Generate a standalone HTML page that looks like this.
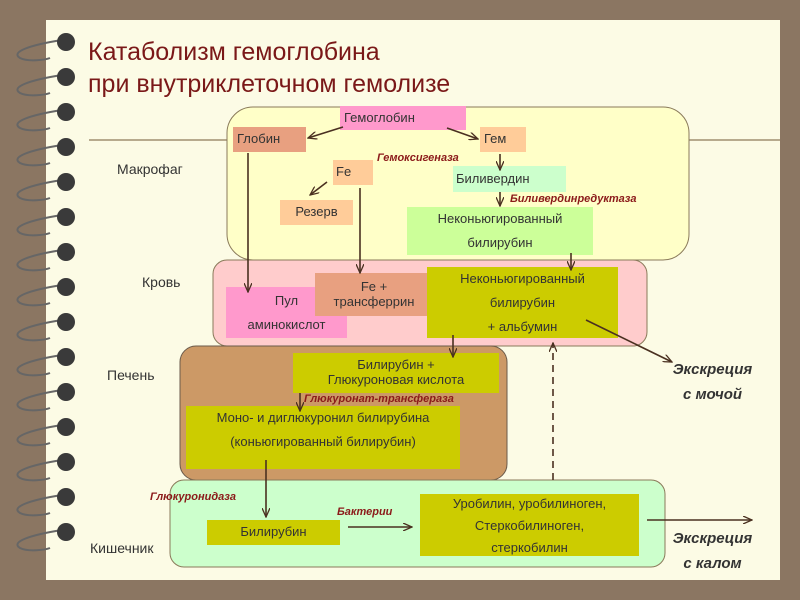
<!DOCTYPE html>
<html><head><meta charset="utf-8"><style>
body{margin:0;width:800px;height:600px;overflow:hidden;background:#8b7662;font-family:"Liberation Sans",sans-serif}
.b{position:absolute;font-size:13px;color:#333;text-align:center;line-height:1.15;display:flex;flex-direction:column;justify-content:center}
.l{position:absolute;font-size:14px;color:#333}
.e{position:absolute;font-size:11px;font-weight:bold;font-style:italic;color:#8b1a1a}
.x{position:absolute;font-size:15px;font-weight:bold;font-style:italic;color:#333;text-align:center;line-height:25px}
</style></head><body>
<div style="position:absolute;left:46px;top:20px;width:734px;height:560px;background:#fcfbe5"></div>
<svg style="position:absolute;left:0;top:0" width="800" height="600">
<line x1="89" y1="140" x2="230" y2="140" stroke="#a09070" stroke-width="1.5"/>
<line x1="688" y1="140" x2="780" y2="140" stroke="#a09070" stroke-width="1.5"/>
<rect x="227" y="107" width="462" height="153" rx="26" fill="#ffffc8" stroke="#8a7a5a"/>
<rect x="213" y="260" width="434" height="86" rx="14" fill="#ffcccc" stroke="#8a7a5a"/>
<rect x="180" y="346" width="327" height="134" rx="16" fill="#cc9966" stroke="#6a5a4a"/>
<rect x="170" y="480" width="495" height="87" rx="14" fill="#ccffcc" stroke="#8a7a5a"/>
</svg>
<div style="position:absolute;left:88px;top:36px;font-size:25px;color:#7a1818;line-height:32px">Катаболизм гемоглобина<br>при внутриклеточном гемолизе</div>
<div class="l" style="left:117px;top:161px">Макрофаг</div>
<div class="l" style="left:142px;top:274px">Кровь</div>
<div class="l" style="left:107px;top:367px">Печень</div>
<div class="l" style="left:90px;top:540px">Кишечник</div>
<div class="b" style="left:340px;top:106px;width:126px;height:24px;background:#ff99cc;align-items:flex-start;padding-left:4px;box-sizing:border-box">Гемоглобин</div>
<div class="b" style="left:233px;top:127px;width:73px;height:25px;background:#e8a080;align-items:flex-start;padding-left:4px;box-sizing:border-box">Глобин</div>
<div class="b" style="left:480px;top:127px;width:46px;height:25px;background:#ffcc99;align-items:flex-start;padding-left:4px;box-sizing:border-box">Гем</div>
<div class="e" style="left:377px;top:152px">Гемоксигеназа</div>
<div class="b" style="left:333px;top:160px;width:40px;height:25px;background:#ffcc99;align-items:flex-start;padding-left:3px;box-sizing:border-box">Fe</div>
<div class="b" style="left:280px;top:200px;width:73px;height:25px;background:#ffcc99">Резерв</div>
<div class="b" style="left:453px;top:166px;width:113px;height:26px;background:#ccffcc;align-items:flex-start;padding-left:3px;box-sizing:border-box">Биливердин</div>
<div class="e" style="left:510px;top:193px">Биливердинредуктаза</div>
<div class="b" style="left:407px;top:207px;width:186px;height:48px;background:#ccff99;line-height:24px">Неконьюгированный<br>билирубин</div>
<div class="b" style="left:226px;top:287px;width:121px;height:51px;background:#ff99cc;line-height:24px"><span>Пул</span>аминокислот</div>
<div class="b" style="left:315px;top:273px;width:118px;height:43px;background:#e8a080">Fe +<br>трансферрин</div>
<div class="b" style="left:427px;top:267px;width:191px;height:71px;background:#cccc00;line-height:24px">Неконьюгированный<br>билирубин<br>+ альбумин</div>
<div class="b" style="left:293px;top:353px;width:206px;height:40px;background:#cccc00">Билирубин +<br>Глюкуроновая кислота</div>
<div class="e" style="left:304px;top:393px">Глюкуронат-трансфераза</div>
<div class="b" style="left:186px;top:406px;width:274px;height:63px;background:#cccc00;justify-content:flex-start;line-height:24px">Моно- и диглюкуронил билирубина<br>(коньюгированный билирубин)</div>
<div class="e" style="left:150px;top:491px">Глюкуронидаза</div>
<div class="b" style="left:207px;top:520px;width:133px;height:25px;background:#cccc00">Билирубин</div>
<div class="e" style="left:337px;top:506px">Бактерии</div>
<div class="b" style="left:420px;top:494px;width:219px;height:62px;background:#cccc00;line-height:17px">Уробилин, уробилиноген,<br><span style="line-height:27px">Стеркобилиноген,</span>стеркобилин</div>
<div class="x" style="left:660px;top:357px;width:105px">Экскреция<br>с мочой</div>
<div class="x" style="left:660px;top:526px;width:105px">Экскреция<br>с калом</div>
<svg style="position:absolute;left:0;top:0" width="800" height="600">
<defs><marker id="a" markerWidth="10" markerHeight="8" refX="9" refY="4" orient="auto" markerUnits="userSpaceOnUse"><path d="M0,0 L9,4 L0,8" fill="none" stroke="#4a3020" stroke-width="1.3"/></marker></defs>
<g stroke="#4a3020" stroke-width="1.6" fill="none" marker-end="url(#a)">
<line x1="343" y1="127" x2="308" y2="138"/>
<line x1="447" y1="128" x2="478" y2="139"/>
<line x1="500" y1="154" x2="500" y2="170"/>
<line x1="500" y1="192" x2="500" y2="206"/>
<line x1="327" y1="182" x2="310" y2="195"/>
<line x1="248" y1="153" x2="248" y2="292"/>
<line x1="360" y1="188" x2="360" y2="273"/>
<line x1="571" y1="253" x2="571" y2="270"/>
<line x1="453" y1="335" x2="453" y2="357"/>
<line x1="300" y1="393" x2="300" y2="411"/>
<line x1="266" y1="460" x2="266" y2="517"/>
<line x1="348" y1="527" x2="412" y2="527"/>
<line x1="586" y1="320" x2="672" y2="362"/>
<line x1="647" y1="520" x2="752" y2="520"/>
<line x1="553" y1="480" x2="553" y2="343" stroke-dasharray="7,5"/>
</g>
<g stroke="#666" stroke-width="2" fill="none">
<path d="M62,40 C30,45 10,52 20,58 C28,62 45,60 50,58"/>
<path d="M62,75 C30,80 10,87 20,93 C28,97 45,95 50,93"/>
<path d="M62,110 C30,115 10,122 20,128 C28,132 45,130 50,128"/>
<path d="M62,145 C30,150 10,157 20,163 C28,167 45,165 50,163"/>
<path d="M62,180 C30,185 10,192 20,198 C28,202 45,200 50,198"/>
<path d="M62,215 C30,220 10,227 20,233 C28,237 45,235 50,233"/>
<path d="M62,250 C30,255 10,262 20,268 C28,272 45,270 50,268"/>
<path d="M62,285 C30,290 10,297 20,303 C28,307 45,305 50,303"/>
<path d="M62,320 C30,325 10,332 20,338 C28,342 45,340 50,338"/>
<path d="M62,355 C30,360 10,367 20,373 C28,377 45,375 50,373"/>
<path d="M62,390 C30,395 10,402 20,408 C28,412 45,410 50,408"/>
<path d="M62,425 C30,430 10,437 20,443 C28,447 45,445 50,443"/>
<path d="M62,460 C30,465 10,472 20,478 C28,482 45,480 50,478"/>
<path d="M62,495 C30,500 10,507 20,513 C28,517 45,515 50,513"/>
<path d="M62,530 C30,535 10,542 20,548 C28,552 45,550 50,548"/>
</g>
<g fill="#3a3a3a">
<circle cx="66" cy="42" r="9"/><circle cx="66" cy="77" r="9"/><circle cx="66" cy="112" r="9"/><circle cx="66" cy="147" r="9"/><circle cx="66" cy="182" r="9"/><circle cx="66" cy="217" r="9"/><circle cx="66" cy="252" r="9"/><circle cx="66" cy="287" r="9"/><circle cx="66" cy="322" r="9"/><circle cx="66" cy="357" r="9"/><circle cx="66" cy="392" r="9"/><circle cx="66" cy="427" r="9"/><circle cx="66" cy="462" r="9"/><circle cx="66" cy="497" r="9"/><circle cx="66" cy="532" r="9"/>
</g>
</svg>
</body></html>
